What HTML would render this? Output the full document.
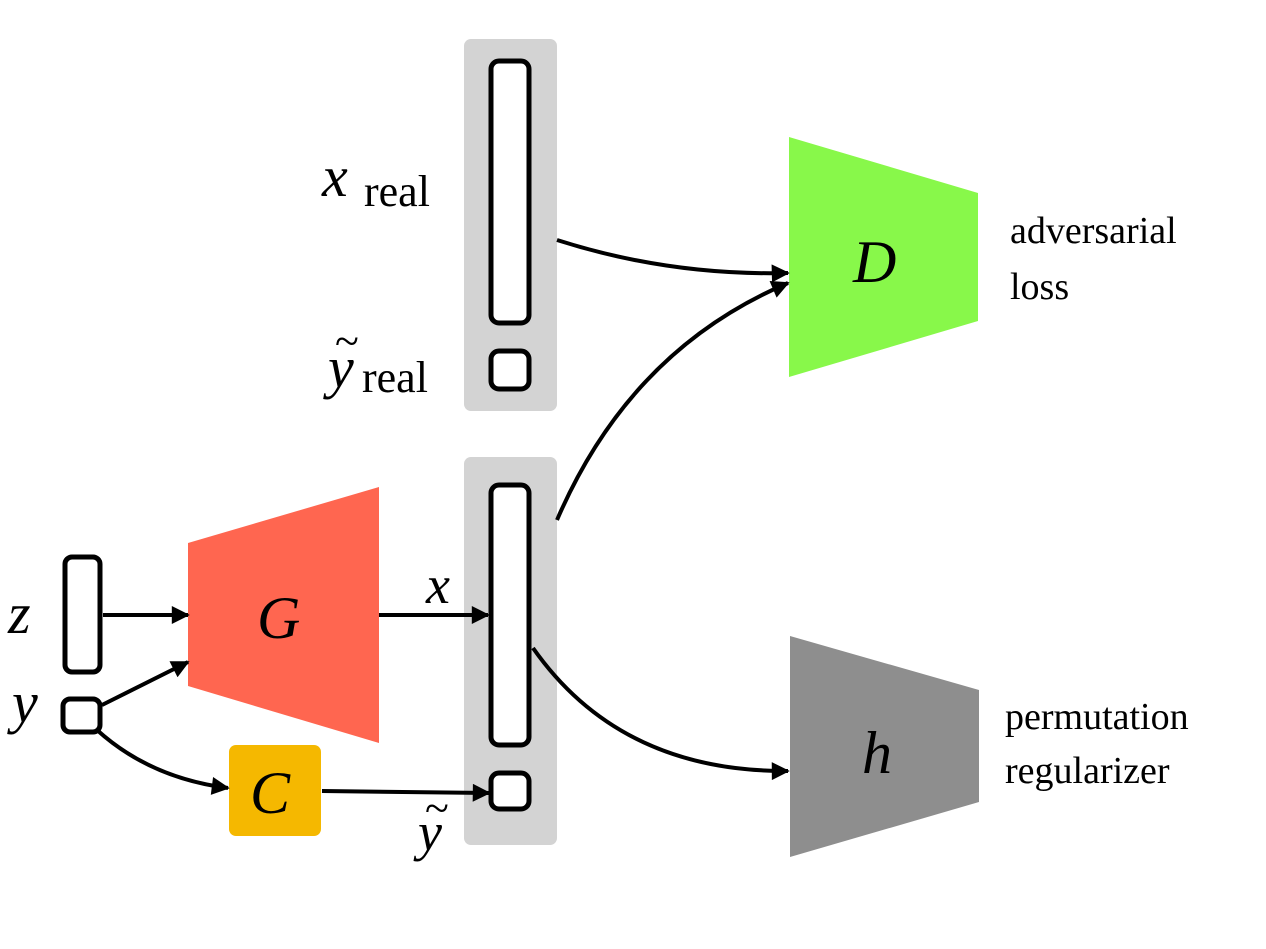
<!DOCTYPE html>
<html><head><meta charset="utf-8"><style>
html,body{margin:0;padding:0;background:#fff;}
svg{display:block;}
.m{font-family:"Liberation Serif",serif;font-style:italic;}
.r{font-family:"Liberation Serif",serif;}
</style></head><body>
<svg width="1266" height="949" viewBox="0 0 1266 949" xmlns="http://www.w3.org/2000/svg">
<defs>
<marker id="a" markerWidth="8" markerHeight="8" refX="7" refY="4" orient="auto" markerUnits="userSpaceOnUse" viewBox="0 0 8 8">
</marker>
<marker id="ah" viewBox="0 0 10 10" refX="9" refY="5" markerWidth="20" markerHeight="18" markerUnits="userSpaceOnUse" orient="auto"><path d="M0,0 L10,5 L0,10 z" fill="#000"/></marker>
</defs>
<!-- gray panels -->
<rect x="464" y="39" width="93" height="372" rx="7" fill="#d3d3d3"/>
<rect x="464" y="457" width="93" height="388" rx="7" fill="#d3d3d3"/>
<!-- bars -->
<rect x="491" y="61" width="38" height="262" rx="8" fill="#fff" stroke="#000" stroke-width="5"/>
<rect x="491" y="351" width="38" height="38" rx="8" fill="#fff" stroke="#000" stroke-width="5"/>
<rect x="491" y="485" width="38" height="260" rx="8" fill="#fff" stroke="#000" stroke-width="5"/>
<rect x="491" y="773" width="38" height="36" rx="8" fill="#fff" stroke="#000" stroke-width="5"/>
<rect x="65" y="557" width="35" height="115" rx="7" fill="#fff" stroke="#000" stroke-width="5"/>
<rect x="63" y="699" width="37" height="33" rx="7" fill="#fff" stroke="#000" stroke-width="5"/>
<!-- blocks -->
<polygon points="188,543 379,487 379,743 188,686" fill="#ff6650"/>
<rect x="229" y="745" width="92" height="91" rx="7" fill="#f5b800"/>
<polygon points="789,137 978,193 978,321 789,377" fill="#88f84a"/>
<polygon points="790,636 979,690 979,802 790,857" fill="#8e8e8e"/>
<!-- arrows -->
<g stroke="#000" stroke-width="4" fill="none" marker-end="url(#ah)">
<line x1="103" y1="615" x2="188" y2="615"/>
<line x1="102" y1="705" x2="188" y2="662"/>
<path d="M97,730 Q150,778 228,788"/>
<line x1="322" y1="791" x2="489" y2="793"/>
<line x1="379" y1="615" x2="488" y2="615"/>
<path d="M557,240 Q670,276 788,273"/>
<path d="M557,520 Q630,350 788,283"/>
<path d="M533,648 Q620,772 788,771"/>
</g>
<!-- labels -->
<text class="m" x="257" y="638" font-size="60">G</text>
<text class="m" x="250" y="813" font-size="60">C</text>
<text class="m" x="853" y="282" font-size="60">D</text>
<text class="m" x="862" y="773" font-size="60">h</text>
<text class="m" x="8" y="633" font-size="58">z</text>
<text class="m" x="12" y="722" font-size="58">y</text>
<text class="m" x="426" y="603" font-size="54">x</text>
<text class="m" x="418" y="850" font-size="54">y</text>
<text class="r" x="425" y="823" font-size="44">~</text>
<text class="m" x="322" y="196" font-size="58">x</text>
<text class="r" x="364" y="206" font-size="44">real</text>
<text class="m" x="328" y="387" font-size="58">y</text>
<text class="r" x="335" y="356" font-size="44">~</text>
<text class="r" x="362" y="392" font-size="44">real</text>
<text class="r" x="1010" y="243" font-size="38">adversarial</text>
<text class="r" x="1010" y="299" font-size="38">loss</text>
<text class="r" x="1005" y="729" font-size="38">permutation</text>
<text class="r" x="1005" y="783" font-size="38">regularizer</text>
</svg>
</body></html>
